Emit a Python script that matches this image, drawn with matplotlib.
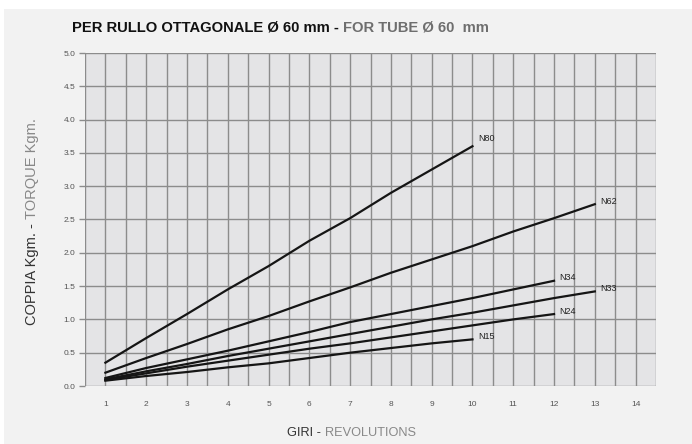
import matplotlib.pyplot as plt
from matplotlib.patches import Rectangle
import numpy as np

plt.rcParams['font.family'] = ['Liberation Sans', 'DejaVu Sans']

# revolutions and torque (Kgm) per motor
giri = [1, 2, 3, 4, 5, 6, 7, 8, 9, 10, 11, 12, 13]
n80 = [0.35, 0.72, 1.08, 1.45, 1.80, 2.18, 2.52, 2.90, 3.25, 3.60]
n62 = [0.20, 0.42, 0.63, 0.85, 1.05, 1.27, 1.48, 1.70, 1.90, 2.10, 2.32, 2.52, 2.73]
n34 = [0.12, 0.27, 0.40, 0.53, 0.67, 0.81, 0.96, 1.08, 1.20, 1.32, 1.45, 1.58]
n33 = [0.10, 0.22, 0.33, 0.45, 0.56, 0.67, 0.78, 0.89, 1.00, 1.10, 1.21, 1.32, 1.42]
n24 = [0.09, 0.19, 0.29, 0.38, 0.47, 0.56, 0.64, 0.73, 0.82, 0.91, 1.00, 1.08]
n15 = [0.08, 0.15, 0.21, 0.28, 0.34, 0.42, 0.50, 0.57, 0.64, 0.70]
series = [("N80", n80), ("N62", n62), ("N34", n34),
          ("N33", n33), ("N24", n24), ("N15", n15)]
x_ticks = list(range(1, 15))
y_ticks = [0.0, 0.5, 1.0, 1.5, 2.0, 2.5, 3.0, 3.5, 4.0, 4.5, 5.0]

fig = plt.figure(figsize=(6.92, 4.44), dpi=100, facecolor="white")
fig.patches.append(Rectangle((4 / 692, 0), 1, 1 - 9 / 444, transform=fig.transFigure,
                             facecolor="#f2f2f2", edgecolor="none", zorder=-10))

ax = fig.add_axes([85 / 692, 1 - 386 / 444, 571 / 692, 333 / 444])
ax.set_facecolor("#e4e4e6")
ax.set_xlim(0.5, 14.5)
ax.set_ylim(0, 5)

# grid every half unit
for gx in np.arange(0.5, 14.51, 0.5):
    ax.axvline(gx, color="#8c8c8c", lw=1.0, zorder=1)
for gy in np.arange(0, 5.01, 0.5):
    ax.axhline(gy, color="#8c8c8c", lw=1.0, zorder=1)

for spine in ax.spines.values():
    spine.set_visible(False)

for name, vals in series:
    xs = giri[:len(vals)]
    ax.plot(xs, vals, color="#151515", lw=1.6, zorder=3)
    ax.annotate(name, (xs[-1], vals[-1]), xytext=(4, 2), textcoords="offset points",
                fontsize=6.5, color="#222222", va="bottom" if name == "N80" else "center",
                ha="left")

ax.set_xticks(x_ticks)
ax.set_yticks(y_ticks)
ax.set_yticklabels([f"{v:.1f}" for v in y_ticks])
ax.tick_params(axis="both", labelsize=6, colors="#555555")
ax.tick_params(axis="x", length=0, pad=11)
ax.tick_params(axis="y", length=4, width=1, color="#8c8c8c", pad=3)

# two-tone texts
def two_tone(x, y, a, b, size, weight, rotation=0, c1="#111111", c2="#7a7a7a"):
    t1 = fig.text(x, y, a, fontsize=size, fontweight=weight, color=c1,
                  rotation=rotation, va="baseline", ha="left")
    fig.canvas.draw()
    bb = t1.get_window_extent()
    if rotation == 0:
        x2 = bb.x1 / fig.bbox.width
        fig.text(x2, y, b, fontsize=size, fontweight=weight, color=c2,
                 va="baseline", ha="left")
    else:
        y2 = bb.y1 / fig.bbox.height
        fig.text(x, y2, b, fontsize=size, fontweight=weight, color=c2,
                 rotation=rotation, va="bottom", ha="left")

two_tone(72 / 692, 1 - 31 / 444, "PER RULLO OTTAGONALE Ø 60 mm - ", "FOR TUBE Ø 60  mm",
         10.6, "bold", c2="#6e6e6e")
two_tone(287 / 692, 1 - 436 / 444, "GIRI - ", "REVOLUTIONS", 9.2, "normal",
         c1="#333333", c2="#888888")
two_tone(25 / 692, 1 - 322 / 444, "COPPIA Kgm. - ", "TORQUE Kgm.", 10.5, "normal",
         rotation=90, c1="#333333", c2="#888888")

fig.savefig("out.png", dpi=100, facecolor=fig.get_facecolor())
